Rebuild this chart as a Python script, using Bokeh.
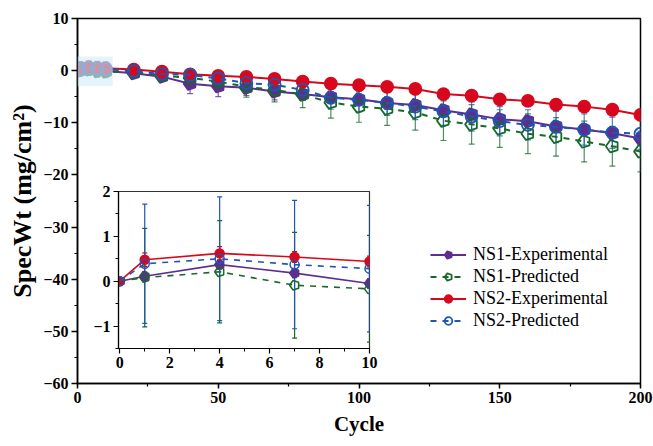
import math
from bokeh.plotting import figure
from bokeh.layouts import column
from bokeh.models import (ColumnDataSource, Whisker, TeeHead, BoxAnnotation, Legend,
                          SingleIntervalTicker, CustomJSTickFormatter, Range1d)
from bokeh.embed import file_html
from bokeh.resources import INLINE

cycles = [0, 1, 4, 7, 10, 20, 30, 40, 50, 60, 70, 80, 90, 100, 110, 120, 130, 140, 150, 160, 170, 180, 190, 200]

ns1_exp = [0, 0.11, 0.37, 0.18, -0.05, -0.5, -1.15, -2.5, -3.0, -3.3, -4.0, -4.5, -5.1, -5.5, -6.2, -6.6, -7.6, -8.4, -9.3, -9.7, -10.7, -11.3, -12.0, -13.0]
ns1_pred = [0, 0.08, 0.21, -0.09, -0.17, -0.3, -0.95, -1.4, -2.1, -3.1, -3.7, -4.6, -6.1, -6.9, -7.3, -8.0, -9.6, -10.3, -11.1, -12.1, -12.7, -13.6, -14.5, -15.5]
ns2_exp = [0, 0.48, 0.62, 0.54, 0.44, 0.2, -0.2, -0.7, -1.0, -1.2, -1.6, -2.1, -2.5, -2.8, -3.1, -3.5, -4.5, -4.8, -5.5, -5.8, -6.5, -6.9, -7.5, -8.5]
ns2_pred = [0, 0.39, 0.5, 0.37, 0.28, -0.1, -0.65, -0.8, -1.5, -2.4, -2.7, -3.7, -5.2, -5.6, -6.2, -6.9, -7.8, -8.8, -9.7, -10.4, -10.8, -11.3, -11.9, -12.1]

ns1_exp_err = [0.05, 0.1, 0.1, 0.1, 0.1, 0.5, 0.8, 1.9, 2.0, 1.5, 1.6, 1.2, 1.0, 1.0, 1.0, 1.0, 1.0, 1.0, 0.9, 0.9, 0.9, 0.9, 0.9, 0.9]
ns1_pred_err = [0.05, 1.1, 1.14, 1.18, 1.19, 0.8, 1.0, 1.3, 1.6, 2.0, 2.3, 2.5, 3.0, 3.0, 3.2, 3.4, 3.8, 3.8, 3.6, 3.8, 3.7, 3.9, 3.8, 3.9]
ns2_exp_err = [0.05, 0.15, 0.15, 0.12, 0.12, 0.4, 0.5, 0.6, 0.6, 0.6, 0.7, 0.7, 0.7, 0.8, 0.8, 0.8, 0.9, 0.9, 0.9, 0.9, 1.0, 1.0, 1.0, 1.1]
ns2_pred_err = [0.05, 1.33, 1.38, 1.43, 1.41, 0.8, 1.0, 1.2, 1.4, 1.6, 1.8, 2.0, 2.2, 2.3, 2.4, 2.5, 2.7, 2.8, 2.8, 2.9, 3.0, 3.0, 3.0, 3.0]

series_names = ["NS1-Experimental", "NS1-Predicted", "NS2-Experimental", "NS2-Predicted"]

PURPLE = "#5d2e8e"
GREEN = "#17692b"
RED = "#d7081d"
BLUE = "#1f56b3"

FONT = '"Liberation Serif"'
minus_fmt = "return tick < 0 ? '\u2212' + Math.abs(tick) : String(tick);"

series = [
    (series_names[0], ns1_exp, ns1_exp_err, PURPLE, "solid", "penta", PURPLE),
    (series_names[1], ns1_pred, ns1_pred_err, GREEN, "dashed", "penta", None),
    (series_names[2], ns2_exp, ns2_exp_err, RED, "solid", "circle", RED),
    (series_names[3], ns2_pred, ns2_pred_err, BLUE, "dashed", "circle", None),
]


def style_axes(fig, label_size):
    for ax in fig.axis:
        ax.axis_line_width = 1.5
        ax.axis_line_color = "black"
        ax.major_tick_line_width = 1.5
        ax.minor_tick_line_width = 1.2
        ax.major_label_text_font = FONT
        ax.major_label_text_font_style = "bold"
        ax.major_label_text_font_size = label_size
        ax.major_label_text_color = "black"
        ax.axis_label_text_font = FONT
        ax.axis_label_text_font_style = "bold"
        ax.axis_label_text_color = "black"
    fig.xgrid.visible = False
    fig.ygrid.visible = False


def draw_marker(fig, src, marker, color, fill, size):
    if marker == "penta":
        return fig.ngon("x", "y", source=src, radius=size / 2.0, radius_units="screen", n=5,
                        angle=math.pi / 2,
                        line_color=color, line_width=1.8 if size > 11 else 1.5,
                        fill_color=fill if fill else "white", fill_alpha=1.0 if fill else 0.0)
    return fig.scatter("x", "y", source=src, marker="circle", size=size,
                       line_color=color, line_width=1.8 if size > 10 else 1.5,
                       fill_color=fill if fill else "white", fill_alpha=1.0 if fill else 0.0)


# ---------------- main figure ----------------
p = figure(width=653, height=446, output_backend="svg", toolbar_location=None,
           x_range=Range1d(0, 200), y_range=Range1d(-60, 10),
           min_border_left=77, min_border_right=13, min_border_top=18, min_border_bottom=63,
           background_fill_color="white", border_fill_color="white")
p.outline_line_color = "black"
p.outline_line_width = 1.5

p.xaxis.ticker = SingleIntervalTicker(interval=50, num_minor_ticks=2)
p.yaxis.ticker = SingleIntervalTicker(interval=10, num_minor_ticks=2)
p.yaxis.formatter = CustomJSTickFormatter(code=minus_fmt)
p.xaxis.axis_label = "Cycle"
p.yaxis.axis_label = "SpecWt (mg/cm\u00b2)"
style_axes(p, "16px")
p.xaxis.axis_label_text_font_size = "21px"
p.yaxis.axis_label_text_font_size = "26px"
p.xaxis.major_tick_in = 0
p.xaxis.major_tick_out = 5
p.xaxis.minor_tick_in = 0
p.xaxis.minor_tick_out = 3
p.yaxis.major_tick_in = 0
p.yaxis.major_tick_out = 6
p.yaxis.minor_tick_in = 0
p.yaxis.minor_tick_out = 3
p.xaxis.major_label_standoff = 3
p.yaxis.major_label_standoff = 3
p.xaxis.axis_label_standoff = 6
p.yaxis.axis_label_standoff = 3

legend_items = []
for name, ys, errs, color, dash, marker, fill in series:
    src = ColumnDataSource(dict(x=cycles, y=ys,
                                upper=[a + b for a, b in zip(ys, errs)],
                                lower=[a - b for a, b in zip(ys, errs)]))
    w = Whisker(source=src, base="x", upper="upper", lower="lower",
                line_color=color, line_alpha=0.75, line_width=1.2,
                upper_head=TeeHead(size=6, line_color=color, line_alpha=0.75, line_width=1.2),
                lower_head=TeeHead(size=6, line_color=color, line_alpha=0.75, line_width=1.2))
    p.add_layout(w)
    ln = p.line("x", "y", source=src, line_color=color, line_width=2, line_dash=dash)
    sc = draw_marker(p, src, marker, color, fill, 12 if marker == "circle" else 13)
    legend_items.append((name, [ln, sc]))

hl = BoxAnnotation(left=0, right=12.5, bottom=-3.0, top=2.7,
                   fill_color="#d3edf7", fill_alpha=0.6, line_color=None)
p.add_layout(hl)

legend = Legend(items=legend_items, location=(353, 52), orientation="vertical")
legend.background_fill_alpha = 0
legend.border_line_color = None
legend.padding = 0
legend.margin = 0
legend.spacing = 1
legend.glyph_width = 36
legend.glyph_height = 19
legend.label_height = 19
legend.label_standoff = 7
legend.label_text_font = FONT
legend.label_text_font_size = "18px"
legend.label_text_color = "black"
p.add_layout(legend, "center")

# ---------------- inset figure ----------------
# column alignment forces the same left/right borders as the main figure (77 / 13)
inset_border_l = 77
inset_border_r = 13
inset_frame_w = 251
inset_w = inset_border_l + inset_frame_w + inset_border_r
inset_h = 191
inset = figure(width=inset_w, height=inset_h, output_backend="svg", toolbar_location=None,
               x_range=Range1d(-0.05, 10), y_range=Range1d(-1.5, 2),
               min_border_left=inset_border_l, min_border_right=inset_border_r,
               min_border_top=10, min_border_bottom=24,
               background_fill_color="white", border_fill_color=None)
inset.outline_line_color = "#333333"
inset.outline_line_width = 1.2
inset.xaxis.ticker = SingleIntervalTicker(interval=2, num_minor_ticks=2)
inset.yaxis.ticker = SingleIntervalTicker(interval=1, num_minor_ticks=2)
inset.yaxis.formatter = CustomJSTickFormatter(code=minus_fmt)
style_axes(inset, "16px")
for ax in inset.axis:
    ax.axis_line_width = 1.2
    ax.major_tick_line_width = 1.2
    ax.minor_tick_line_width = 1.0
    ax.major_tick_in = 0
    ax.major_tick_out = 5
    ax.minor_tick_in = 0
    ax.minor_tick_out = 3
    ax.major_label_standoff = 3

n_inset = 5
for name, ys, errs, color, dash, marker, fill in series:
    xs = cycles[:n_inset]
    yv = ys[:n_inset]
    ev = errs[:n_inset]
    src = ColumnDataSource(dict(x=xs, y=yv,
                                upper=[a + b for a, b in zip(yv, ev)],
                                lower=[a - b for a, b in zip(yv, ev)]))
    w = Whisker(source=src, base="x", upper="upper", lower="lower",
                line_color=color, line_width=1.2,
                upper_head=TeeHead(size=5, line_color=color, line_width=1.2),
                lower_head=TeeHead(size=5, line_color=color, line_width=1.2))
    inset.add_layout(w)
    inset.line("x", "y", source=src, line_color=color, line_width=1.6, line_dash=dash)
    draw_marker(inset, src, marker, color, fill, 9 if marker == "circle" else 10)

inset_frame_left = 118
inset_top = 181
inset.margin = (inset_top - 446, 0, 446 - (inset_top + inset_h), inset_frame_left - inset_border_l)

layout = column(p, inset, spacing=0)
layout.margin = 0

open("out.html", "w").write(file_html(layout, INLINE))
